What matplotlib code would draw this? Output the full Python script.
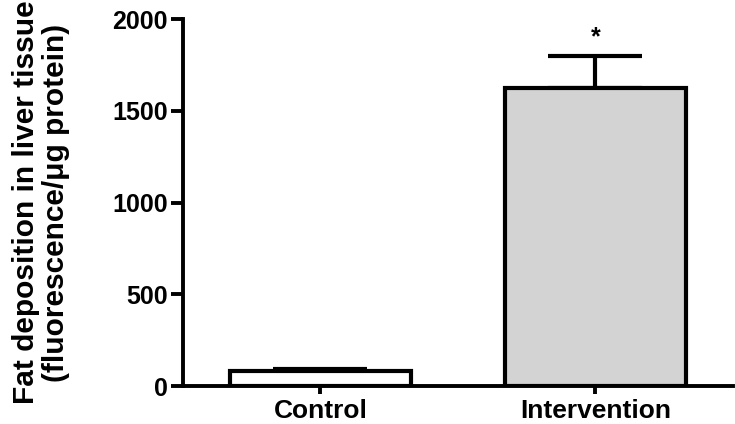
import matplotlib
matplotlib.use('Agg')
import matplotlib.pyplot as plt

groups = ['Control', 'Intervention']
means = [83, 1624]
errs = [10, 175]
colors = ['white', '#d3d3d3']

plt.rcParams['font.family'] = ['Liberation Sans', 'DejaVu Sans']
plt.rcParams['font.weight'] = 'bold'

fig = plt.figure(figsize=(7.35, 4.24), dpi=100)
ax = fig.add_axes([0.249, 0.0896, 0.748, 0.8655])

x = range(len(groups))
ax.bar(x, means, width=0.66, color=colors, edgecolor='black', linewidth=3, zorder=2)
ax.errorbar(x, means, yerr=[[0, 0], errs], fmt='none', ecolor='black',
            elinewidth=3, capsize=34, capthick=3, zorder=1)
# significance mark
ax.text(1, means[1] + errs[1] + 35, '*', ha='center', va='bottom', fontsize=18, fontweight='bold')

ax.set_xlim(-0.5, 1.5)
ax.set_ylim(0, 2000)
ax.set_yticks([0, 500, 1000, 1500, 2000])
ax.set_xticks(list(x))
ax.set_xticklabels(groups)
ax.spines['top'].set_visible(False)
ax.spines['right'].set_visible(False)
ax.spines['left'].set_linewidth(2.8)
ax.spines['bottom'].set_linewidth(2.8)
ax.tick_params(axis='y', length=9, width=2.8, labelsize=18, pad=2)
ax.tick_params(axis='x', length=6, width=2.8, labelsize=19, pad=3)
ax.set_ylabel('Fat deposition in liver tissue\n(fluorescence/\u03bcg protein)',
              fontsize=21.5, fontweight='bold', labelpad=30, linespacing=1.1)

fig.savefig('out.png', dpi=100)
